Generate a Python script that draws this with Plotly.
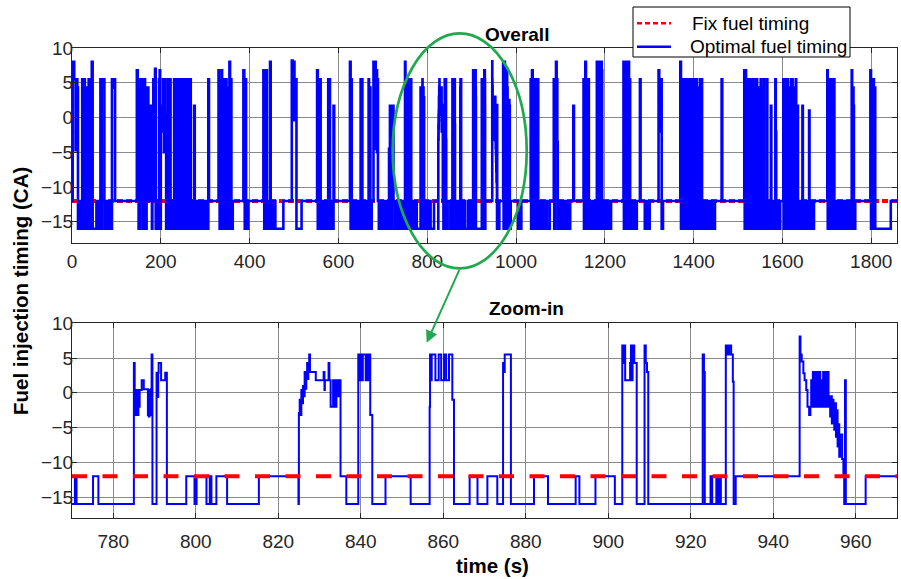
import plotly.graph_objects as go

# ---------------------------------------------------------------------------
# Data: step changes (time in s, injection timing in CA)
# ---------------------------------------------------------------------------
fix_timing = -12.0

steps_0_400 = [
    (0, -12), (1.5, 8), (5, 5.5), (8, -4.7), (10, 5.5), (12, 4.3), (13.5, -16),
    (16, -12), (17, -16), (20, -12), (21, -16), (23, 5.5), (26, -16), (27.5, 5.5),
    (29, 4.3), (32, -16), (33.5, 4.3), (35, -16), (37.5, 5.5), (39.5, -16),
    (42, -12), (43, -16), (44.5, 8), (46.5, -16), (55, -12), (57, -16), (59, -12),
    (61, -16), (64, 5.5), (65.5, -16), (67, 5.5), (69, 4.3), (71, 5.5), (73, -16),
    (77, -12), (80, -16), (83, -12), (86, -16), (90, 5.5), (93, 4.3), (95, 5.5),
    (97, -12), (146, 6.8), (148, -12), (150, -16), (151, 4.3), (152.5, -16),
    (154, 5.5), (155.5, -12), (157, 5.5), (158.5, 4.3), (160, -16), (161, 5.5),
    (162, -3.2), (163, 5.5), (164.5, -16), (166, 0.4), (167, -16), (168, 4.3),
    (169.5, -3.2), (171, 4.3), (172, -12), (173, 1.7), (174, -4.5), (176, 1.7),
    (177, -12), (178, -3.2), (180, -16), (181, 1.7), (183, 5.5), (184, -12),
    (185.5, 0.4), (187, 7.0), (188.5, -16), (191, -12), (192.5, -16), (196, 5.5),
    (197.5, 6.8), (198.5, -16), (200, 1.7), (202, 0.4), (203, 1.7), (204, -2),
    (205, 5.5), (206, 1.7), (207, -5), (208, 1.7), (209, 5.5), (210, 0.4),
    (212, -16), (214, -12), (216, 5.5), (217, -16), (219, -12), (221, 5.5),
    (222, -16), (226, -12), (228, -16), (230, 5.5), (231, -16), (233, 4.3),
    (234, -16), (235, 5.5), (236, -5), (237, 5.5), (238, -16), (240, 5.5),
    (241, -3.2), (242, 5.5), (243, -16), (245, 4.3), (246, -16), (247, 5.5),
    (248, 1.7), (249, 5.5), (250, -16), (252, 5.5), (253, -5), (254, 5.5),
    (255, -16), (257, 4.3), (258, -16), (260, 5.5), (261, -12), (263, -16),
    (266, 5.5), (267.5, -16), (270, -12), (272, -16), (275, 1.7), (276.5, -16),
    (280, -12), (282, -16), (285, -12), (287, -16), (290, -12), (292, -16),
    (296, -12), (298, -16), (301, -12), (303, -16), (307, 5.5), (308.5, -12),
    (330, 6.8), (331, 5.5), (332.5, -16), (334, 5.5), (335, -16), (337, 6.8),
    (338, -16), (340, 5.5), (341, 4.3), (343, -16), (344, 5.5), (345, -16),
    (347, 5.5), (348, -12), (350, -16), (352, 4.3), (353, -16), (354.5, 8),
    (356, -16), (358, 5.5), (359, -16), (362, -12), (386, 6.8), (388, 5.5),
    (389, -16), (391, 5.5), (392, -16), (394, -12), (396, -16), (397, -12),
]

steps_400_770 = [
    (431, 6.8), (433, -16), (435, 5.5), (436.5, -16), (438, 6.8), (439, -16),
    (444, -12), (445, -16), (446, 8), (447.5, -16), (449, -12), (452, -16),
    (454, -12), (458, -16), (476, -12), (495, 8.2), (497, 5.5), (498, -0.4),
    (500, 8), (501, 5.5), (503, 4.3), (504, 5.5), (505.5, -16), (517, -12),
    (552, 6.8), (553.5, -16), (556, 5.5), (557, -16), (559, 5.5), (560, -16),
    (562, -12), (564, -16), (566, -12), (568, -16), (571, -12), (573, -16),
    (577, 5.5), (578, -16), (580, 5.5), (581, -16), (584, -12), (586, -16),
    (589, 1.7), (590.5, -12), (626, 8), (627.5, -16), (629, 5.5), (630, -16),
    (632, -12), (634, -16), (636, -12), (638, -16), (640, -12), (642, -16),
    (645, -12), (648, -16), (650, 5.5), (651, -16), (653, 5.5), (654, -16),
    (656, -12), (658, -16), (662, -12), (666, -16), (668, 5.5), (669, -16),
    (671, 4.3), (672, -16), (675, -12), (679, 8), (680, 6.8), (681, -4.5),
    (683, 8), (684, 5.5), (686, 6.8), (687, -5), (688, 5.5), (689, -12),
    (691, -16), (693, -12), (695, -16), (697, -12), (700, -16), (703, -12),
    (705, -16), (708, -12), (710, -16), (712, -12), (714, -4.5), (716, 1.7),
    (717, -16), (720, 1.7), (724, -12), (726, -16), (728, -12), (730, -16),
    (733, -12), (735, -16), (738, -12), (741, -16), (744, -12), (747, -16),
    (750, 8), (751, -16), (753, 5.5), (754, -16), (756, 5.5), (757, 4.3),
    (758, -16), (760, 4.3), (761, -16), (763, 5.5), (764, -16), (766, -12),
]

# 770 - 970 s, the window shown in the lower panel
steps_zoom = [
    (770.0, -16), (770.7, -12), (771.1, -16), (775.1, -12), (776.4, -16),
    (785.0, 4.3), (785.2, -2.0), (785.3, 0.4), (785.4, -3.2), (785.5, 0.4),
    (785.7, -3.2), (785.8, -0.5), (786.0, -3.2), (786.1, 0.4), (786.3, -2.0),
    (786.4, 0.4), (786.9, 1.8), (787.4, 0.5), (788.4, -3.2), (788.5, 0.4),
    (788.6, -3.4), (788.8, 0.4), (788.9, -3.2), (789.1, 0.5), (789.3, 5.5),
    (789.5, -16), (790.5, 2.9), (790.8, -0.6), (790.9, 2.9), (791.0, 4.3),
    (791.6, 1.8), (792.6, 2.9), (793.0, -16), (797.7, -12), (799.7, -16),
    (800.2, -12), (802.6, -16), (803.4, -12), (803.8, -16), (805.0, -12),
    (807.6, -16), (815.3, -12), (824.9, -16), (825.0, -2.9), (825.2, -1.0),
    (825.4, -3.2), (825.6, 0.4), (825.8, -1.5), (826.0, 1.0), (826.2, -0.5),
    (826.4, 3.0), (826.6, 0.6), (826.8, 3.0), (827.0, 4.3), (827.1, 2.0),
    (827.3, 4.3), (827.5, 5.5), (827.7, 3.0), (829.1, 1.8), (831.0, 3.0),
    (831.2, 0.4), (831.3, 1.8), (832.2, 4.3), (832.4, 1.8), (832.7, -2.0),
    (833.3, 1.8), (833.7, -2.0), (834.1, 1.8), (834.5, -0.5), (834.8, 1.8),
    (835.1, -12), (836.5, -16), (839.4, 5.5), (839.7, 1.8), (839.9, 5.5),
    (840.3, 1.8), (840.5, 5.5), (841.2, 1.8), (841.5, 5.5), (841.9, 1.8),
    (842.0, 5.5), (842.3, -3.2), (842.8, -16), (846.0, -12), (852.1, -16),
    (856.7, -2.0), (856.8, 5.5), (857.0, 1.8), (857.2, 5.5), (858.1, 1.8),
    (858.9, 5.5), (859.5, 1.8), (860.2, 5.5), (860.7, 1.8), (861.4, 5.5),
    (862.2, -1.0), (862.6, -16), (866.4, -12), (868.3, -16), (870.7, -12),
    (873.1, -16), (874.5, 4.3), (874.7, 3.0), (874.9, 5.5), (876.4, -16),
    (882.0, -12), (885.4, -16), (892.1, -12), (893.0, -16), (896.9, -12),
    (901.6, -16), (903.4, 6.8), (903.7, 4.3), (903.9, 6.8), (904.1, 1.8),
    (905.3, 4.3), (905.5, 6.8), (905.7, 1.8), (905.9, 6.8), (906.3, 4.3),
    (906.9, -16), (908.8, 6.8), (909.1, 4.3), (909.4, 3.0), (909.7, -16),
    (922.9, 5.5), (923.2, 3.0), (923.4, -16), (924.8, -12), (925.2, -16),
    (926.2, -12), (926.6, -16), (926.9, -12), (927.3, -16), (928.5, 6.8),
    (928.9, 5.5), (929.3, 6.8), (929.8, 5.5), (930.2, 1.6), (930.4, -16),
    (930.9, -12), (946.4, 8.1), (946.6, 5.5), (946.9, 4.5), (947.3, 2.8),
    (947.6, 1.8), (948.0, 0.4), (948.3, -2.0), (948.7, -3.2), (949.0, -2.0),
    (949.2, 1.8), (949.4, -2.0), (949.6, 3.0), (949.8, -2.0), (950.1, 3.0),
    (950.3, -2.0), (950.5, 1.8), (950.7, 3.0), (950.9, -2.0), (951.2, 3.0),
    (951.4, -2.0), (951.6, 1.8), (951.8, -2.0), (952.1, 3.0), (952.3, -2.0),
    (952.6, 3.0), (952.8, -2.0), (953.0, 1.8), (953.2, 3.0), (953.4, -2.0),
    (953.6, -0.5), (953.8, -3.4), (954.0, -0.5), (954.2, -4.4), (954.4, -1.0),
    (954.6, -3.5), (954.8, -5.3), (955.0, -1.5), (955.2, -6.3), (955.4, -2.5),
    (955.6, -7.7), (955.8, -4.5), (956.0, -9.2), (956.2, -6.0), (956.7, -9.5),
    (957.0, -12), (957.2, -16), (957.4, 1.8), (957.6, -16), (962.4, -12),
    (970.0, -12),
]

steps_970_1400 = [
    (971, 8), (972, -16), (974, 8), (975, 6.8), (976, 5.5), (977, -16),
    (978, 6.8), (980, 4.3), (981, -16), (983, 2.5), (985, 1.7), (986, -16),
    (988, -12), (1005, -16), (1007, -12), (1009, -16), (1012, -12),
    (1033, 5.5), (1034, -16), (1036, 6.8), (1037.5, 5.5), (1039, -16),
    (1040, 4.3), (1041, -4.5), (1042, 5.5), (1043, -16), (1045, 4.3),
    (1046, 5.5), (1047, -16), (1049, 5.5), (1050, -16), (1054, -12), (1056, -16),
    (1060, -12), (1063, -16), (1068, -12), (1070, -16), (1076, -12),
    (1085, 5.5), (1086, -16), (1088, 5.5), (1090, 8), (1091.5, 5.5), (1093, -3.5),
    (1094, -16), (1097, -12), (1100, -16), (1103, -12), (1106, -16), (1110, -12),
    (1113, -16), (1116, -12), (1119, -16), (1122, -12), (1129, 1.7), (1130.5, -12),
    (1152, 5.5), (1153, -16), (1155, 5.5), (1156, 8), (1157.5, -16), (1159, 5.5),
    (1160, 4.3), (1161, -16), (1163, 5.5), (1164, -16), (1167, -12), (1170, -16),
    (1174, -12), (1177, -16), (1182, 8), (1183, -16), (1185, 8), (1186, 5.5),
    (1187, -16), (1189, 8), (1190, -16), (1192, 8), (1193, 6.8), (1194, -16),
    (1196, -12), (1198, -16), (1200, -12), (1202, -16), (1204, -12), (1206, -16),
    (1209, -12), (1211, -16), (1214, -12), (1242, 8), (1243, -16), (1245, 8),
    (1246, 5.5), (1247, -16), (1249, 8), (1250, 6.8), (1251, -16), (1253, 8),
    (1254.5, -16), (1256, 5.5), (1257, -16), (1260, -12), (1263, -16),
    (1266, -12), (1268, -16), (1272, -12), (1279, 5.5), (1280.5, -12),
    (1290, -16), (1293, -12), (1298, -16), (1301, -12), (1321, 6.8), (1322.5, 5.5),
    (1325, -2), (1326, 5.5), (1328, -16), (1331, -12), (1370, 8), (1371.5, -16),
    (1374, -12), (1377, 5.5), (1378, -16), (1380, 5.5), (1381, 4.3), (1383, -16),
    (1385, 5.5), (1386, -16), (1388, 4.3), (1389, 5.5), (1390, -16), (1393, 5.5),
    (1394, -16), (1396, 4.3), (1397, -16), (1399, 5.5),
]

steps_1400_1858 = [
    (1400, -16), (1402, 5.5), (1403, 4.3), (1404, -16), (1406, 5.5), (1407, -16),
    (1410, 4.3), (1411, -16), (1414, 5.5), (1415, -16), (1418, 5.5), (1419, -16),
    (1421, -12), (1424, -16), (1427, -12), (1430, -16), (1434, -12), (1437, -16),
    (1441, -12), (1444, -16), (1448, -12), (1463, 5.5), (1464.5, -12),
    (1514, 6.8), (1515, -16), (1517, 6.8), (1518, 5.5), (1519, -16), (1521, 5.5),
    (1522, -4.5), (1523, 5.5), (1524, -16), (1526, 5.5), (1527, 4.3), (1528, -16),
    (1530, 5.5), (1531, -5), (1532, 5.5), (1533, -16), (1535, 4.3), (1536, 1.7),
    (1537, -16), (1539, 5.5), (1540, -12), (1542, 5.5), (1543, -16), (1545, 4.3),
    (1546, -3.2), (1547, 4.3), (1548, -16), (1551, 5.5), (1552, -16), (1555, 4.3),
    (1556, -12), (1558, 5.5), (1559, -16), (1562, -12), (1565, 5.5), (1566, -16),
    (1569, -12), (1571, -16), (1574, 1.7), (1575, -16), (1578, -12), (1581, -16),
    (1584, 5.5), (1585, -2), (1586, -16), (1589, -12), (1592, -16), (1595, -12),
    (1602, 5.5), (1603, -16), (1605, 5.5), (1606, 4.3), (1607, -16), (1609, 5.5),
    (1610, 1.7), (1611, 5.5), (1612, -16), (1614, 4.3), (1615, -2.3), (1616, 4.3),
    (1617, -16), (1619, 5.5), (1620, -16), (1622, 5.5), (1623, 1.7), (1624, -16),
    (1626, 4.3), (1627, -16), (1630, 5.5), (1631, -12), (1634, 1.7), (1635, -16),
    (1638, -12), (1641, -16), (1643, -12), (1645, 1.7), (1646, -16), (1650, -12),
    (1653, -16), (1657, -12), (1660, 1.0), (1661, -16), (1664, -12), (1667, -16),
    (1671, -12), (1701, 6.8), (1702, -16), (1704, 5.5), (1705, -16), (1707, 5.5),
    (1708, 4.3), (1709, -16), (1712, 5.5), (1713, -16), (1716, 5.5), (1717, -16),
    (1720, -12), (1723, -16), (1727, -12), (1730, -16), (1734, -12), (1737, -16),
    (1742, -12), (1745, -16), (1749, -12), (1752, -16), (1756, 6.8), (1757, -16),
    (1759, 4.3), (1760, 1.7), (1761, -16), (1764, -12), (1798, 6.8), (1799.5, -16),
    (1801, 5.5), (1802, 4.3), (1803, -16), (1805, 5.5), (1806, -16), (1808, 4.3),
    (1809, -16), (1844, -12), (1858, -12),
]

legend_labels = ["Fix fuel timing", "Optimal fuel timing"]

# ---------------------------------------------------------------------------
steps_overall = steps_0_400 + steps_400_770 + steps_zoom + steps_970_1400 + steps_1400_1858
t_overall = [p[0] for p in steps_overall]
u_overall = [p[1] for p in steps_overall]
t_zoom = [p[0] for p in steps_zoom]
u_zoom = [p[1] for p in steps_zoom]

FONT = "Arial, 'Liberation Sans', sans-serif"
AX_COLOR = "#262626"
GRID = "#8a8a8a"
GREEN = "#20a94e"
RED = "#ff0000"
BLUE = "#0000ff"

# plot-area geometry in pixels (used to place paper-referenced decorations)
L, T, W, H = 72, 48, 825, 470


def px(xp):
    return (xp - L) / W


def py(yp):
    return 1 - (yp - T) / H


fig = go.Figure()

# upper panel: fixed timing under the optimal timing
fig.add_trace(go.Scatter(
    x=[t_overall[0], t_overall[-1]], y=[fix_timing, fix_timing], mode="lines",
    line=dict(color=RED, width=4, dash="6px,3px"),
    name=legend_labels[0], showlegend=False, xaxis="x", yaxis="y"))
fig.add_trace(go.Scatter(
    x=t_overall, y=u_overall, mode="lines", line_shape="hv",
    line=dict(color=BLUE, width=2.6),
    name=legend_labels[1], showlegend=False, xaxis="x", yaxis="y"))

# lower panel: zoom window, fixed timing drawn on top
fig.add_trace(go.Scatter(
    x=t_zoom, y=u_zoom, mode="lines", line_shape="hv",
    line=dict(color=BLUE, width=2),
    showlegend=False, xaxis="x2", yaxis="y2"))
fig.add_trace(go.Scatter(
    x=[770, 970], y=[fix_timing, fix_timing], mode="lines",
    line=dict(color=RED, width=4, dash="15px,15.5px"),
    showlegend=False, xaxis="x2", yaxis="y2"))

axis_common = dict(
    showgrid=True, gridcolor=GRID, gridwidth=1,
    showline=True, linecolor=AX_COLOR, linewidth=1, mirror="ticks",
    ticks="inside", ticklen=5, tickcolor=AX_COLOR,
    zeroline=False,
    tickfont=dict(family=FONT, size=19, color=AX_COLOR),
)

y_ticks = [-15, -10, -5, 0, 5, 10]

fig.update_layout(
    width=901, height=579,
    margin=dict(l=L, r=901 - L - W, t=T, b=579 - T - H),
    paper_bgcolor="white", plot_bgcolor="white",
    font=dict(family=FONT, color=AX_COLOR),
    showlegend=False,
    xaxis=dict(axis_common, domain=[0, 1], anchor="y", range=[0, 1858],
               tickvals=list(range(0, 1801, 200)), ticklabelstandoff=1),
    yaxis=dict(axis_common, domain=[py(242.7), 1], anchor="x", range=[-18, 10],
               tickvals=y_ticks, ticklabelstandoff=-6),
    xaxis2=dict(axis_common, domain=[0, 1], anchor="y2", range=[770, 970],
                tickvals=list(range(780, 961, 20)), ticklabelstandoff=6),
    yaxis2=dict(axis_common, domain=[0, py(323.3)], anchor="x2", range=[-18, 10],
                tickvals=y_ticks, ticklabelstandoff=-6),
)

# panel titles and axis titles
ann_font = dict(family=FONT, color="#000000")
fig.add_annotation(text="<b>Overall</b>", xref="paper", yref="paper",
                   x=px(517), y=py(35), xanchor="center", yanchor="middle",
                   showarrow=False, font=dict(ann_font, size=19))
fig.add_annotation(text="<b>Zoom-in</b>", xref="paper", yref="paper",
                   x=px(526), y=py(308), xanchor="center", yanchor="middle",
                   showarrow=False, font=dict(ann_font, size=19))
fig.add_annotation(text="<b>time (s)</b>", xref="paper", yref="paper",
                   x=px(493), y=py(565), xanchor="center", yanchor="middle",
                   showarrow=False, font=dict(ann_font, size=20.5))
fig.add_annotation(text="<b>Fuel injection timing (CA)</b>", xref="paper", yref="paper",
                   x=px(20), y=py(291), xanchor="center", yanchor="middle",
                   showarrow=False, textangle=-90, font=dict(ann_font, size=20.5))

# legend box with line samples
fig.add_shape(type="rect", xref="paper", yref="paper",
              x0=px(633), x1=px(850), y0=py(57), y1=py(7),
              fillcolor="white", line=dict(color="#000000", width=1), layer="above")
fig.add_shape(type="line", xref="paper", yref="paper",
              x0=px(637), x1=px(671), y0=py(23.3), y1=py(23.3),
              line=dict(color=RED, width=2.5, dash="5px,3px"), layer="above")
fig.add_shape(type="line", xref="paper", yref="paper",
              x0=px(637), x1=px(671), y0=py(46.7), y1=py(46.7),
              line=dict(color=BLUE, width=2.5), layer="above")
fig.add_annotation(text=legend_labels[0], xref="paper", yref="paper",
                   x=px(690), y=py(23.3), xanchor="left", yanchor="middle",
                   showarrow=False, font=dict(ann_font, size=19))
fig.add_annotation(text=legend_labels[1], xref="paper", yref="paper",
                   x=px(688), y=py(46.7), xanchor="left", yanchor="middle",
                   showarrow=False, font=dict(ann_font, size=19))

# highlight of the zoom window and pointer to the lower panel
fig.add_shape(type="circle", xref="paper", yref="paper",
              x0=px(392.7), x1=px(526.7), y0=py(268.3), y1=py(33.3),
              line=dict(color=GREEN, width=2.7), layer="above")
fig.add_annotation(text="", xref="paper", yref="paper",
                   x=px(426.7), y=py(342.7), ax=33.3, ay=-74.4, showarrow=True,
                   arrowhead=2, arrowsize=1.2, arrowwidth=2, arrowcolor=GREEN)

fig.write_html("out.html")
